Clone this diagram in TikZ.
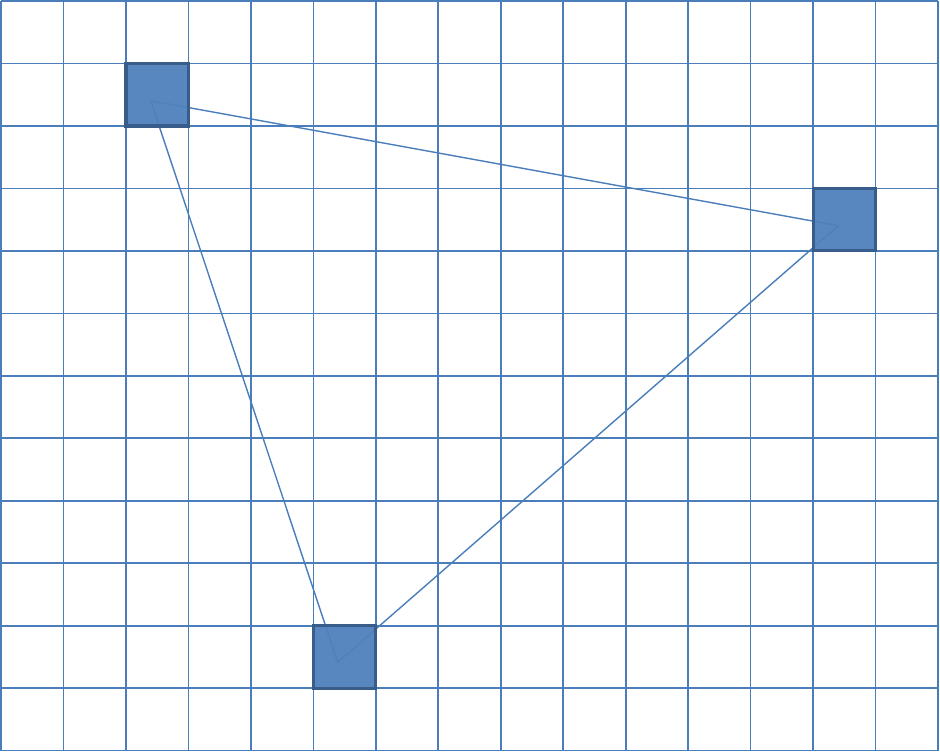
\documentclass[tikz,border=0pt]{standalone}
\definecolor{gridc}{HTML}{4A7EBB}
\definecolor{boxfill}{HTML}{4F81BD}
\definecolor{boxline}{HTML}{385D8A}
\begin{document}
\begin{tikzpicture}[x=1pt,y=-1pt,
  gridline/.style={draw=gridc,line width=1.6pt},
  cellbox/.style={draw=boxline,fill=boxfill,fill opacity=0.95,draw opacity=1,line width=3.2pt,minimum size=62.47pt,inner sep=0pt,outer sep=0pt},
  link/.style={draw=gridc,line width=1.4pt}]
\useasboundingbox (0,0) rectangle (940,753);
\foreach \i in {0,...,15} \draw[gridline] ({1+62.47*\i},1) -- ({1+62.47*\i},750.6);
\foreach \j in {0,...,12} \draw[gridline] (1,{1+62.47*\j}) -- (938,{1+62.47*\j});
\coordinate (p1) at (150.7,100.7);
\coordinate (p2) at (838.3,225.7);
\coordinate (p3) at (337.7,662.3);
\draw[link] (p1) -- (p2) -- (p3) -- cycle;
\node[cellbox] (a) at ({1+62.47*2.5},{1+62.47*1.5}) {};
\node[cellbox] (b) at ({1+62.47*13.5},{1+62.47*3.5}) {};
\node[cellbox] (c) at ({1+62.47*5.5},{1+62.47*10.5}) {};
\end{tikzpicture}
\end{document}
